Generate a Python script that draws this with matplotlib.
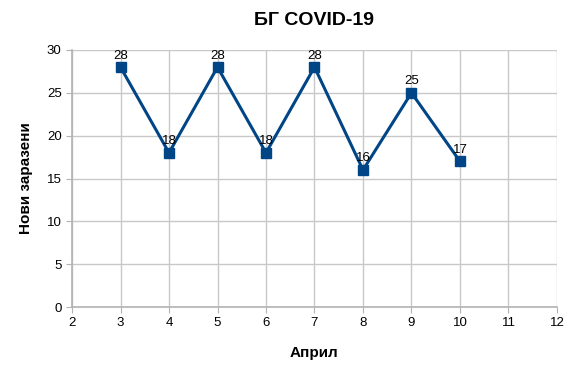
import matplotlib.pyplot as plt

plt.rcParams['font.family'] = ['Liberation Sans', 'DejaVu Sans']

# data
days = [3, 4, 5, 6, 7, 8, 9, 10]
cases = [28, 18, 28, 18, 28, 16, 25, 17]

fig = plt.figure(figsize=(5.77, 3.75), dpi=100)
ax = fig.add_axes([0.1248, 0.1813, 0.8405, 0.6854])

ax.plot(days, cases, color='#004586', linewidth=2.2, marker='s', markersize=7, zorder=3)
for d, c in zip(days, cases):
    ax.annotate(str(c), (d, c), xytext=(0, 4), textcoords='offset points',
                ha='center', va='bottom', fontsize=9.5, color='black')

ax.set_xlim(2, 12)
ax.set_ylim(0, 30)
ax.set_xticks(range(2, 13))
ax.set_yticks(range(0, 31, 5))
ax.grid(True, color='#c8c8c8', linewidth=1)
ax.set_axisbelow(True)
for s in ['top', 'right']:
    ax.spines[s].set_visible(False)
for s in ['left', 'bottom']:
    ax.spines[s].set_color('#b3b3b3')
    ax.spines[s].set_linewidth(1.2)
ax.tick_params(colors='#b3b3b3', labelcolor='black', labelsize=9.5, length=4)

ax.set_title('БГ COVID-19', fontsize=14, fontweight='bold', pad=18)
ax.set_xlabel('Април', fontsize=11, fontweight='bold', labelpad=12)
ax.set_ylabel('Нови заразени', fontsize=11, fontweight='bold', labelpad=10)

plt.savefig('out.png', dpi=100)
